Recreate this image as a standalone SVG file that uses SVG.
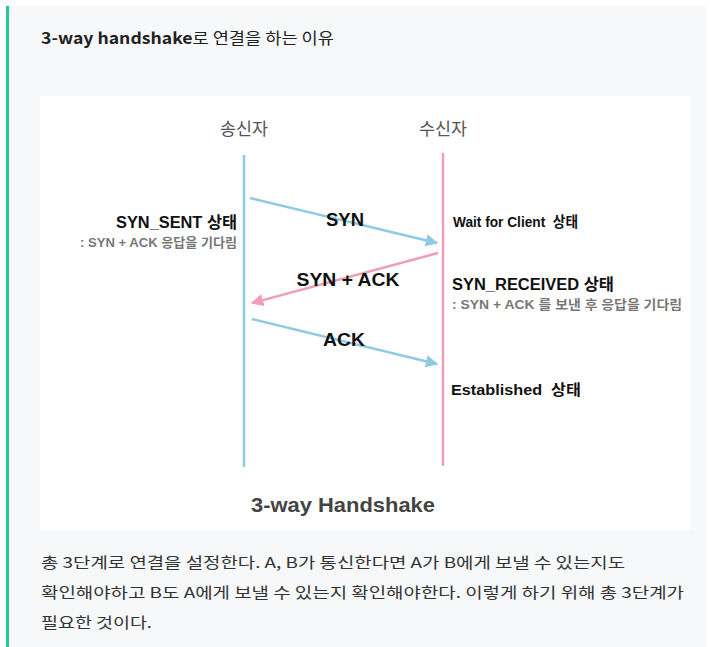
<svg xmlns="http://www.w3.org/2000/svg" width="710" height="647" viewBox="0 0 710 647">
<defs>
<style>
.kr{font-family:"Noto Sans CJK KR","Noto Sans",sans-serif}
.hv{font-family:"Liberation Sans","Noto Sans CJK KR",sans-serif;font-weight:bold}
.lbl{font-size:19px;fill:#111;text-anchor:middle}
.st{font-size:16px;fill:#111}
.st2{font-size:15px;fill:#111}
.sub{font-size:13px;fill:#777}
.hdr{font-size:17.5px;fill:#555;font-weight:normal;text-anchor:middle}
.blue{stroke:#8ecae3;stroke-width:2.5;fill:none}
.pink{stroke:#ef9fb5;stroke-width:2.5;fill:none}
</style>
<marker id="ab" viewBox="0 0 10 10" refX="9" refY="5" markerWidth="5" markerHeight="5" orient="auto" markerUnits="strokeWidth"><path d="M0,0 L10,5 L0,10 z" fill="#8ecae3"/></marker>
<marker id="ap" viewBox="0 0 10 10" refX="9" refY="5" markerWidth="5" markerHeight="5" orient="auto" markerUnits="strokeWidth"><path d="M0,0 L10,5 L0,10 z" fill="#ef9fb5"/></marker>
</defs>
<rect width="710" height="647" fill="#ffffff"/>
<rect x="6" y="6" width="700" height="641" fill="#f7f8fa"/>
<rect x="6" y="6" width="3" height="641" fill="#20c997"/>
<text x="41" y="44" class="kr" font-size="16" fill="#222" textLength="293" lengthAdjust="spacingAndGlyphs"><tspan font-weight="bold">3-way handshake</tspan>로 연결을 하는 이유</text>
<rect x="40" y="96" width="650" height="434" fill="#ffffff"/>
<g id="sender">
<text x="244" y="135" class="hv hdr" textLength="48" lengthAdjust="spacingAndGlyphs">송신자</text>
<line x1="244" y1="155" x2="244" y2="467" class="blue"/>
</g>
<g id="receiver">
<text x="443" y="135" class="hv hdr" textLength="48" lengthAdjust="spacingAndGlyphs">수신자</text>
<line x1="443" y1="153" x2="443" y2="466" class="pink"/>
</g>
<g id="connectors">
<line x1="250" y1="198" x2="437" y2="243" class="blue" marker-end="url(#ab)"/>
<line x1="438" y1="253" x2="252" y2="303" class="pink" marker-end="url(#ap)"/>
<line x1="252" y1="319" x2="437" y2="364" class="blue" marker-end="url(#ab)"/>
</g>
<g id="labels">
<text x="345" y="226" class="hv lbl" textLength="38" lengthAdjust="spacingAndGlyphs">SYN</text>
<text x="348" y="286" class="hv lbl" textLength="103" lengthAdjust="spacingAndGlyphs">SYN + ACK</text>
<text x="344" y="346" class="hv lbl" textLength="42" lengthAdjust="spacingAndGlyphs">ACK</text>
</g>
<g id="sender-state">
<text x="237" y="228" class="hv st" text-anchor="end" textLength="121" lengthAdjust="spacingAndGlyphs">SYN_SENT 상태</text>
<text x="237" y="247" class="hv sub" text-anchor="end" textLength="157" lengthAdjust="spacingAndGlyphs">: SYN + ACK 응답을 기다림</text>
</g>
<g id="receiver-state">
<text x="453" y="227" class="hv st2" textLength="125" lengthAdjust="spacingAndGlyphs" xml:space="preserve">Wait for Client  상태</text>
<text x="452" y="290" class="hv st" textLength="162" lengthAdjust="spacingAndGlyphs">SYN_RECEIVED 상태</text>
<text x="452" y="309" class="hv sub" textLength="230" lengthAdjust="spacingAndGlyphs">: SYN + ACK 를 보낸 후 응답을 기다림</text>
<text x="451" y="395" class="hv st2" textLength="130" lengthAdjust="spacingAndGlyphs" xml:space="preserve">Established  상태</text>
</g>
<text x="343" y="512" class="hv" font-size="21" fill="#444" text-anchor="middle" textLength="184" lengthAdjust="spacingAndGlyphs">3-way Handshake</text>
<g class="kr" font-size="15" fill="#333">
<text x="41" y="568" textLength="584" lengthAdjust="spacingAndGlyphs">총 3단계로 연결을 설정한다. A, B가 통신한다면 A가 B에게 보낼 수 있는지도</text>
<text x="41" y="598" textLength="643" lengthAdjust="spacingAndGlyphs">확인해야하고 B도 A에게 보낼 수 있는지 확인해야한다. 이렇게 하기 위해 총 3단계가</text>
<text x="41" y="628" textLength="111" lengthAdjust="spacingAndGlyphs">필요한 것이다.</text>
</g>
</svg>
